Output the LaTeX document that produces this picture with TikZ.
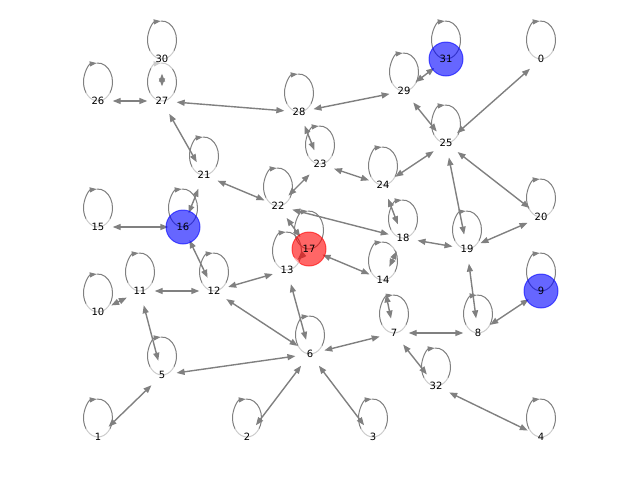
\documentclass[tikz,border=0pt]{standalone}
\usepackage{fontspec}
\setmainfont{DejaVu Sans}
\usetikzlibrary{arrows.meta,backgrounds}
\definecolor{edgegray}{RGB}{128,128,128}
\begin{document}
\begin{tikzpicture}[x=1pt, y=-1pt,
                    every node/.style={circle, minimum size=29pt, inner sep=0pt,
                                       font=\fontsize{10}{11}\selectfont},
                    plain/.style={fill=white, fill opacity=0.6, text opacity=1},
                    link/.style={draw=edgegray, line width=1.4pt,
                                 {Triangle[length=8pt,width=6pt]}-{Triangle[length=8pt,width=6pt]}},
                    selfloop/.style={draw=edgegray, line width=1pt},
                    bluemark/.style={fill=blue, draw=blue, opacity=0.6, line width=1pt},
                    redmark/.style={fill=red, draw=red, opacity=0.6, line width=1pt}]
    \useasboundingbox (0,0) rectangle (640,480);
    % top rows
    \node[plain] (0)  at (541,59)  {0};
    \node[plain] (30) at (162,59)  {30};
    \node        (31) at (446,59)  {31};
    \node[plain] (29) at (404,91)  {29};
    \node[plain] (26) at (98,101)  {26};
    \node[plain] (27) at (162,101) {27};
    \node[plain] (28) at (299,112) {28};
    \node[plain] (25) at (446,143) {25};
    \node[plain] (23) at (320,164) {23};
    \node[plain] (21) at (204,175) {21};
    \node[plain] (24) at (383,185) {24};
    \node[plain] (22) at (278,206) {22};
    \node[plain] (20) at (541,217) {20};
    % middle
    \node[plain] (15) at (98,227)  {15};
    \node        (16) at (183,227) {16};
    \node[plain] (18) at (403,238) {18};
    \node        (17) at (309,249) {17};
    \node[plain] (19) at (467,249) {19};
    \node[plain] (13) at (287,270) {13};
    \node[plain] (14) at (383,280) {14};
    \node[plain] (11) at (140,291) {11};
    \node[plain] (12) at (214,291) {12};
    \node        (9)  at (541,291) {9};
    \node[plain] (10) at (98,312)  {10};
    % bottom rows
    \node[plain] (7)  at (394,333) {7};
    \node[plain] (8)  at (478,333) {8};
    \node[plain] (6)  at (310,354) {6};
    \node[plain] (5)  at (162,375) {5};
    \node[plain] (32) at (436,386) {32};
    \node[plain] (1)  at (98,437)  {1};
    \node[plain] (2)  at (247,437) {2};
    \node[plain] (3)  at (373,437) {3};
    \node[plain] (4)  at (541,437) {4};

    \begin{scope}[on background layer]
    \foreach \n in {0,...,32} {
        \draw[selfloop, -{Triangle[length=7pt,width=5pt]}] (\n.center)
            arc[start angle=-90, end angle=-265, x radius=14.5pt, y radius=19pt];
        \draw[selfloop] (\n.center)
            arc[start angle=-90, end angle=95, x radius=14.5pt, y radius=19pt];
    }
    \foreach \a/\b in {26/27, 30/27, 27/28, 27/21, 28/29, 28/23, 29/31, 29/25,
                       25/0, 25/24, 25/19, 25/20, 21/22, 21/16, 16/15, 16/12,
                       11/12, 11/10, 11/5, 12/13, 12/6, 22/23, 22/18, 22/17,
                       23/24, 24/18, 18/14, 18/19, 19/20, 19/8, 17/13, 17/14,
                       13/6, 14/7, 7/8, 7/32, 7/6, 8/9, 32/4, 6/5, 6/2, 6/3, 5/1}
        \draw[link] (\a) -- (\b);
    % marked nodes
    \path[bluemark] (31.center) circle (17pt);
    \path[bluemark] (16.center) circle (17pt);
    \path[bluemark] (9.center)  circle (17pt);
    \path[redmark]  (17.center) circle (17pt);
    \end{scope}
\end{tikzpicture}
\end{document}
